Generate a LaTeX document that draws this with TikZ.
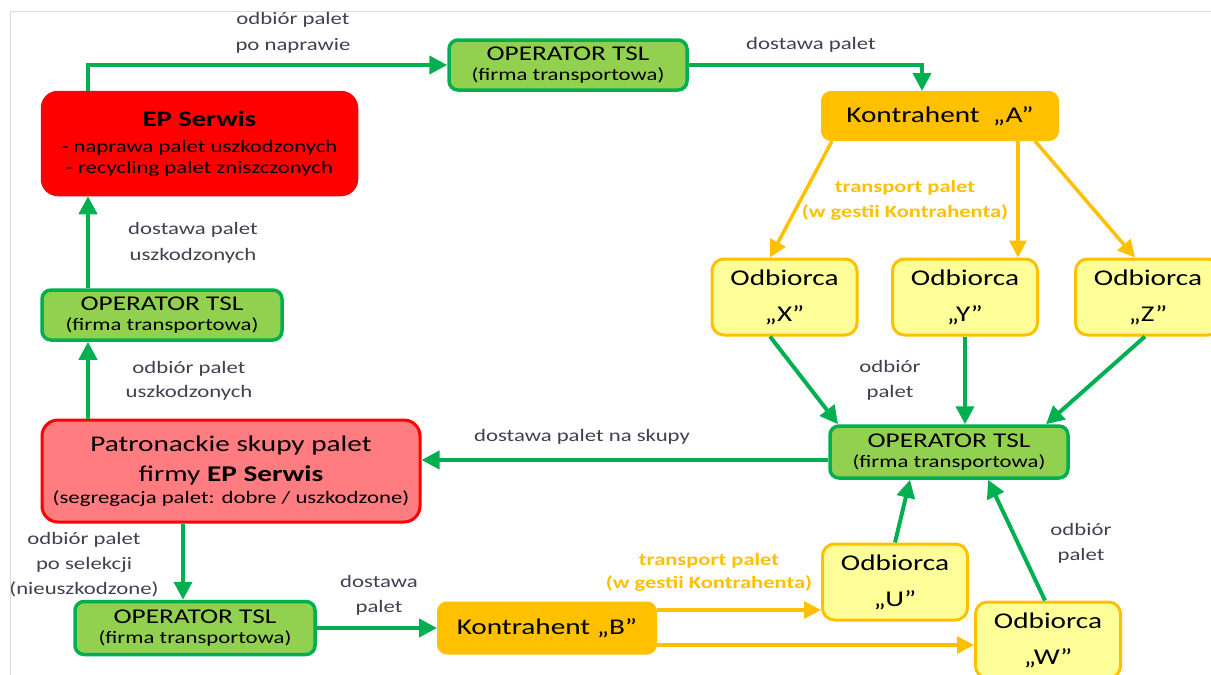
\documentclass[tikz,border=0pt]{standalone}
\usepackage{fontspec}
\setmainfont{Carlito}[FakeStretch=1.3]
\usetikzlibrary{arrows.meta}
\definecolor{tslgreen}{RGB}{0,176,80}
\definecolor{tslfill}{RGB}{146,208,80}
\definecolor{epred}{RGB}{255,0,0}
\definecolor{skuppink}{RGB}{255,124,128}
\definecolor{kamber}{RGB}{255,192,0}
\definecolor{odyellow}{RGB}{255,255,153}
\definecolor{labelgray}{RGB}{64,64,80}

\begin{document}
\begin{tikzpicture}[x=1pt,y=-1pt,
    opbox/.style={draw=tslgreen, fill=tslfill, line width=3.5pt, rounded corners=9pt,
        minimum width=238pt, minimum height=50pt, inner sep=0pt, align=center,
        font=\fontsize{17.5}{20}\selectfont},
    epbox/.style={draw=epred, fill=epred, line width=2.5pt, rounded corners=16pt,
        minimum width=315pt, minimum height=103pt, inner sep=0pt, align=center,
        font=\fontsize{17.5}{21}\selectfont},
    skupbox/.style={draw=epred, fill=skuppink, line width=3pt, rounded corners=16pt,
        minimum width=378pt, minimum height=102pt, inner sep=0pt, align=center,
        font=\fontsize{22.5}{30}\selectfont},
    kbox/.style={draw=kamber, fill=kamber, line width=2pt, rounded corners=9pt,
        minimum height=48pt, inner sep=0pt, align=center,
        font=\fontsize{22.5}{26}\selectfont},
    odbox/.style={draw=kamber, fill=odyellow, line width=3pt, rounded corners=12pt,
        minimum width=145pt, minimum height=76pt, inner sep=0pt, align=center,
        font=\fontsize{22.5}{36}\selectfont},
    lbl/.style={text=labelgray, align=center, inner sep=0pt, font=\fontsize{17.5}{25}\selectfont},
    ylbl/.style={text=kamber, align=center, inner sep=0pt, font=\bfseries\fontsize{17.3}{25}\selectfont},
    garrow/.style={draw=tslgreen, line width=4pt, -{Triangle[length=18pt,width=18pt]}},
    yarrow/.style={draw=kamber, line width=3.5pt, -{Triangle[length=17pt,width=17pt]}}]

    \useasboundingbox (0,0) rectangle (1211,675);
    \draw[black!15, line width=1pt] (10,675) -- (10,11) -- (1211,11);

    % boxes
    \node[epbox] (eps) at (199.5,143.5) {{\bfseries\fontsize{22}{26}\selectfont EP Serwis}\\[5pt]- naprawa palet uszkodzonych\\- recycling palet zniszczonych};
    \node[opbox] (top) at (568,65) {{\fontsize{21}{20}\selectfont OPERATOR TSL}\\(firma transportowa)};
    \node[kbox, minimum width=236pt] (ka) at (940,116) {Kontrahent~ „A”};
    \node[odbox] (ox) at (784.5,297) {Odbiorca\\„X”};
    \node[odbox] (oy) at (965,297) {Odbiorca\\„Y”};
    \node[odbox] (oz) at (1148,297) {Odbiorca\\„Z”};
    \node[opbox, minimum height=52pt] (opr) at (949,452) {{\fontsize{21}{20}\selectfont OPERATOR TSL}\\(firma transportowa)};
    \node[skupbox] (skup) at (231,471) {Patronackie skupy palet\\firmy \textbf{EP Serwis}\\[-8pt]{\fontsize{17.5}{22}\selectfont (segregacja palet: dobre / uszkodzone)}};
    \node[opbox, minimum width=240pt] (lop) at (162,315) {{\fontsize{21}{20}\selectfont OPERATOR TSL}\\(firma transportowa)};
    \node[opbox, minimum width=240pt, minimum height=53pt] (bop) at (195,628) {{\fontsize{21}{20}\selectfont OPERATOR TSL}\\(firma transportowa)};
    \node[kbox, minimum width=218pt, minimum height=51pt] (kb) at (547,628) {Kontrahent „B”};
    \node[odbox] (ou) at (895,582) {Odbiorca\\„U”};
    \node[odbox] (ow) at (1048,640) {Odbiorca\\„W”};

    % labels
    \node[lbl] (l1) at (293,33) {odbiór palet\\[1pt]po naprawie};
    \node[lbl] (l2) at (811,45) {dostawa palet};
    \node[ylbl] (l3) at (905,200) {transport palet\\(w gestii Kontrahenta)};
    \node[lbl] (l4) at (890,380) {odbiór\\palet};
    \node[lbl] (l5) at (582,437) {dostawa palet na skupy};
    \node[lbl] (l6) at (189,381) {odbiór palet\\[-1pt]uszkodzonych};
    \node[lbl] (l7) at (193,243) {dostawa palet\\[1pt]uszkodzonych};
    \node[lbl] (l8) at (84,565) {odbiór palet\\po selekcji\\(nieuszkodzone)};
    \node[lbl] (l9) at (379,595) {dostawa\\palet};
    \node[ylbl] (l10) at (709,572) {transport palet\\[-2pt](w gestii Kontrahenta)};
    \node[lbl] (l11) at (1081,543) {odbiór\\palet};

    % connectors
    \coordinate (lane) at (88,0);
    \draw[garrow] (eps.north -| lane) |- (top.west);
    \draw[garrow] (top.east) -| ([xshift=-18pt]ka.north);
    \draw[yarrow] ([xshift=-108pt]ka.south) -- ([xshift=-14.5pt]ox.north);
    \draw[yarrow] ([xshift=78pt]ka.south) -- ([xshift=78pt]ka.south |- oy.north);
    \draw[yarrow] ([xshift=95pt]ka.south) -- ([xshift=-13pt]oz.north);
    \draw[garrow] ([xshift=-14.5pt]ox.south) -- ([xshift=-111pt]opr.north);
    \draw[garrow] (oy.south) -- (oy.south |- opr.north);
    \draw[garrow] ([xshift=-3pt]oz.south) -- ([xshift=97pt]opr.north);
    \draw[garrow] ([yshift=-8pt]opr.west) -- ([yshift=-8pt]opr.west -| skup.east);
    \draw[garrow] (skup.north -| lane) -- (lop.south -| lane);
    \draw[garrow] (lop.north -| lane) -- (eps.south -| lane);
    \draw[garrow] ([xshift=-12pt]bop.north |- skup.south) -- ([xshift=-12pt]bop.north);
    \draw[garrow] (bop.east) -- (kb.west);
    \draw[yarrow] ([yshift=18pt]kb.east) -- ([yshift=18pt]kb.east -| ou.west);
    \draw[yarrow] ([yshift=-17pt]kb.east) -- ([yshift=-17pt]kb.east -| ow.west);
    \draw[garrow] (ou.north) -- ([xshift=-39pt]opr.south);
    \draw[garrow] ([xshift=-3pt]ow.north) -- ([xshift=39pt]opr.south);
\end{tikzpicture}
\end{document}
